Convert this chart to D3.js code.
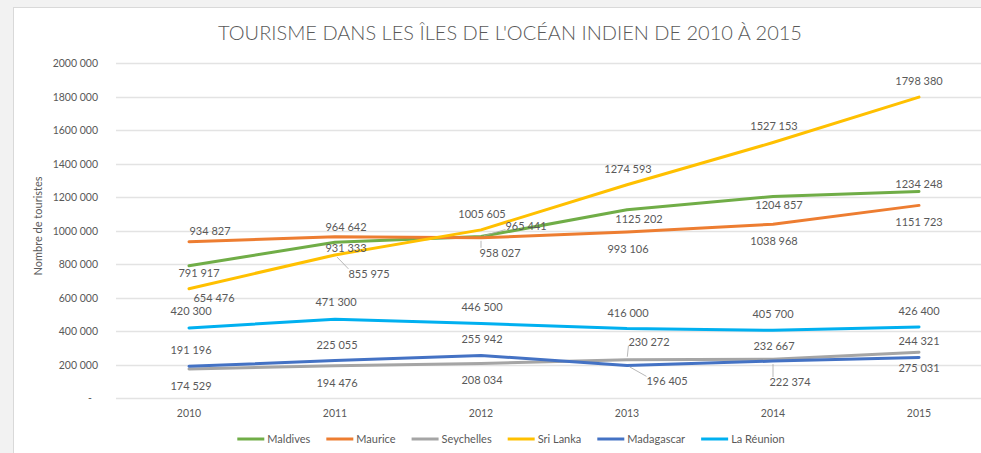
<!DOCTYPE html>
<html>
<head>
<meta charset="utf-8">
<script src="https://cdn.jsdelivr.net/npm/d3@7"></script>
<style>
  body { margin: 0; background: #f2f2f2; }
  text { font-family: Lato, "Open Sans", sans-serif; fill: #595959; }
</style>
</head>
<body>
<div id="chart"></div>
<script>
const W = 981, H = 453;
const margin = { top: 63.3, right: -11, bottom: 54.7, left: 116 };

// data
const years = ["2010", "2011", "2012", "2013", "2014", "2015"];
const series = ["Maldives", "Maurice", "Seychelles", "Sri Lanka", "Madagascar", "La Réunion"];
const maldives   = [791917, 931333, 965441, 1125202, 1204857, 1234248];
const maurice    = [934827, 964642, 958027, 993106, 1038968, 1151723];
const seychelles = [174529, 194476, 208034, 230272, 232667, 275031];
const sriLanka   = [654476, 855975, 1005605, 1274593, 1527153, 1798380];
const madagascar = [191196, 225055, 255942, 196405, 222374, 244321];
const reunion    = [420300, 471300, 446500, 416000, 405700, 426400];
const yTicks = [0, 200000, 400000, 600000, 800000, 1000000, 1200000, 1400000, 1600000, 1800000, 2000000];

const values = [maldives, maurice, seychelles, sriLanka, madagascar, reunion];
const colors = ["#70ad47", "#ed7d31", "#a5a5a5", "#ffc000", "#4472c4", "#00b0f0"];

// where each data label sits relative to its point (text centre), as in the original
const labelNudge = [
  [[10, 7], [11, 6], [45, -11], [12, 9], [6, 9], [0, -8]],
  [[21, -11], [11, -10], [19, 15], [1, 17], [1, 17], [0, 17]],
  [[2, 17], [2, 17], [1, 17], [22, -18], [1, -13], [0, 16]],
  [[25, 9], [34, 19], [1, -16], [1, -16], [1, -16], [0, -16]],
  [[2, -16], [2, -16], [1, -16], [40, 16], [17, 21], [0, -16]],
  [[2, -17], [1, -17], [1, -16], [1, -16], [0, -16], [0, -16]]
];
// labels that have a leader line: [series, year index]
const leaders = [[3, 1], [0, 2], [1, 2], [2, 3], [4, 3], [4, 4]];

const fmt = v => v === 0 ? "-" :
  Math.floor(v / 1000) + " " + String(v % 1000).padStart(3, "0");

const svg = d3.select("#chart").append("svg")
  .attr("width", W)
  .attr("height", H);

svg.append("rect")
  .attr("x", 13.5).attr("y", 7.5)
  .attr("width", W).attr("height", H)
  .attr("fill", "#fff")
  .attr("stroke", "#d9d9d9");

const x = d3.scaleBand().domain(years).range([margin.left, W - margin.right]);
const y = d3.scaleLinear().domain([0, 2000000]).range([H - margin.bottom, margin.top]);

// gridlines
svg.append("g")
  .selectAll("line")
  .data(yTicks)
  .join("line")
  .attr("x1", margin.left)
  .attr("x2", W - margin.right)
  .attr("y1", d => Math.round(y(d)) + 0.5)
  .attr("y2", d => Math.round(y(d)) + 0.5)
  .attr("stroke", "#e3e3e3")
  .attr("stroke-width", 1.3);

// y axis
const yAxis = svg.append("g")
  .attr("transform", `translate(${margin.left},0)`)
  .call(d3.axisLeft(y).tickValues(yTicks).tickFormat(fmt).tickSize(0).tickPadding(18));
yAxis.select(".domain").remove();
yAxis.selectAll("text")
  .attr("font-size", 10.5)
  .attr("fill", "#595959")
  .style("font-family", "Lato, sans-serif")
  .attr("dx", d => d === 0 ? -6 : 0);

// x axis
const xAxis = svg.append("g")
  .attr("transform", `translate(0,${y(0)})`)
  .call(d3.axisBottom(x).tickSize(0).tickPadding(11));
xAxis.select(".domain").remove();
xAxis.selectAll("text")
  .attr("font-size", 10.5)
  .attr("fill", "#595959")
  .style("font-family", "Lato, sans-serif");

// axis title
svg.append("text")
  .attr("transform", "translate(42,226) rotate(-90)")
  .attr("text-anchor", "middle")
  .attr("font-size", 11)
  .text("Nombre de touristes");

// title
svg.append("text")
  .attr("x", 510)
  .attr("y", 40)
  .attr("text-anchor", "middle")
  .attr("font-size", 20)
  .attr("font-weight", 300)
  .text("TOURISME DANS LES ÎLES DE L'OCÉAN INDIEN DE 2010 À 2015");

const cx = i => x(years[i]) + x.bandwidth() / 2;

// lines
const line = d3.line()
  .x((d, i) => cx(i))
  .y(d => y(d));

svg.append("g")
  .selectAll("path")
  .data(values)
  .join("path")
  .attr("d", d => line(d))
  .attr("fill", "none")
  .attr("stroke", (d, i) => colors[i])
  .attr("stroke-width", 3)
  .attr("stroke-linejoin", "round")
  .attr("stroke-linecap", "round");

// data labels
const labelG = svg.append("g");
const boxes = {};
values.forEach((vals, s) => {
  vals.forEach((v, i) => {
    const [dx, dy] = labelNudge[s][i];
    const t = labelG.append("text")
      .attr("x", cx(i) + dx)
      .attr("y", y(v) + dy)
      .attr("dy", "0.36em")
      .attr("text-anchor", "middle")
      .attr("font-size", 11)
      .attr("fill", "#404040")
      .text(fmt(v));
    boxes[s + "_" + i] = t.node().getBBox();
  });
});

// leader lines, from the label box to just short of the point
leaders.forEach(([s, i]) => {
  const b = boxes[s + "_" + i];
  const px = cx(i), py = y(values[s][i]);
  const ex = Math.max(b.x, Math.min(px, b.x + b.width));
  const ey = Math.max(b.y + 2, Math.min(py, b.y + b.height - 2));
  const len = Math.hypot(ex - px, ey - py);
  const sx = px + (ex - px) * 3 / len, sy = py + (ey - py) * 3 / len;
  svg.append("line")
    .attr("x1", sx).attr("y1", sy)
    .attr("x2", ex).attr("y2", ey)
    .attr("stroke", "#a6a6a6")
    .attr("stroke-width", 0.8);
});

// legend
const legend = svg.append("g");
let lx = 0;
series.forEach((name, i) => {
  const g = legend.append("g").attr("transform", `translate(${lx},0)`);
  g.append("line")
    .attr("x1", 0).attr("x2", 27)
    .attr("stroke", colors[i])
    .attr("stroke-width", 3);
  const t = g.append("text")
    .attr("x", 30)
    .attr("dy", "0.36em")
    .attr("font-size", 11)
    .text(name);
  lx += 30 + t.node().getComputedTextLength() + 16;
});
const legendW = lx - 16;
legend.attr("transform", `translate(${511 - legendW / 2},439)`);
</script>
</body>
</html>
